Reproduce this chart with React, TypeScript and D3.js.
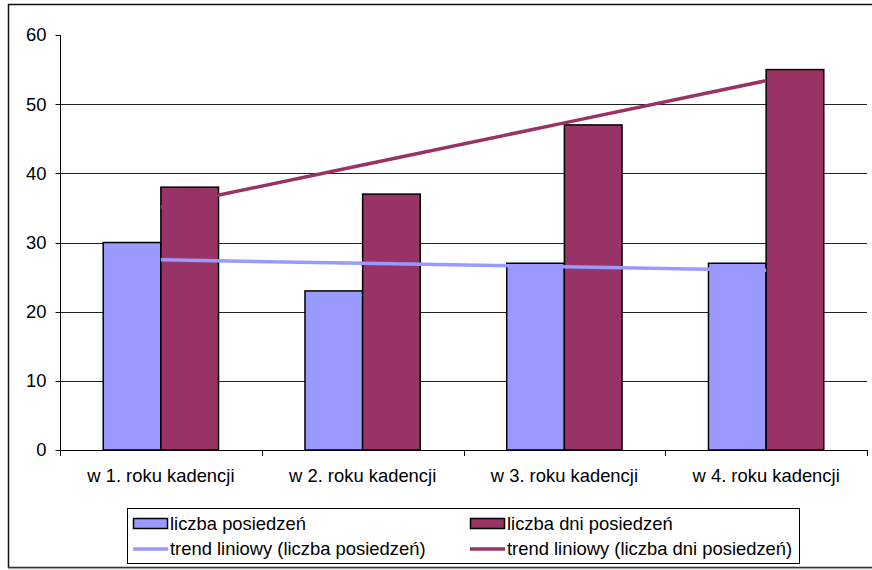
import { useEffect, useRef } from "react";
import * as d3 from "d3";

const categories = ["w 1. roku kadencji", "w 2. roku kadencji", "w 3. roku kadencji", "w 4. roku kadencji"];
const posiedzenia = [30, 23, 27, 27];
const dniPosiedzen = [38, 37, 47, 55];
const yTicks = [0, 10, 20, 30, 40, 50, 60];

const seriesNames = ["liczba posiedzeń", "liczba dni posiedzeń"];
const trendNames = ["trend liniowy (liczba posiedzeń)", "trend liniowy (liczba dni posiedzeń)"];
const colors = ["#9999ff", "#993366"];

// least squares trend over x = 1..n (what Excel's "trend liniowy" draws)
function linearTrend(values: number[]) {
  const xs = values.map((_, i) => i + 1);
  const mx = d3.mean(xs)!;
  const my = d3.mean(values)!;
  const slope = d3.sum(xs, (x, i) => (x - mx) * (values[i] - my)) / d3.sum(xs, (x) => (x - mx) ** 2);
  return values.map((_, i) => my + slope * (xs[i] - mx));
}

export default function App() {
  const ref = useRef<SVGSVGElement>(null);

  useEffect(() => {
    const svg = d3.select(ref.current);
    svg.selectAll("*").remove();
    const W = 872;
    const H = 570;
    const font = "Liberation Sans, Arial, sans-serif";
    const fs = 18.4;

    svg.append("rect").attr("width", W).attr("height", H).attr("fill", "#fff");
    // chart frame
    svg
      .append("rect")
      .attr("x", 8.5)
      .attr("y", 4.5)
      .attr("width", 870)
      .attr("height", 563)
      .attr("fill", "none")
      .attr("stroke", "#111")
      .attr("stroke-width", 1.5);
    svg.append("line").attr("x1", 8).attr("x2", W).attr("y1", 568.5).attr("y2", 568.5).attr("stroke", "#aaa").attr("stroke-width", 1.5);

    const left = 60;
    const right = 867;
    const top = 35;
    const bottom = 450;

    const y = d3.scaleLinear().domain([0, 60]).range([bottom, top]);
    const x = d3.scaleBand<string>().domain(categories).range([left, right]).padding(0);
    const bw = x.bandwidth() / 3.5;
    const inner = d3
      .scaleBand<number>()
      .domain([0, 1])
      .range([(x.bandwidth() - 2 * bw) / 2, (x.bandwidth() + 2 * bw) / 2]);

    // gridlines
    svg
      .selectAll("line.grid")
      .data(yTicks.filter((t) => t > 0 && t < 60))
      .join("line")
      .attr("x1", left)
      .attr("x2", right)
      .attr("y1", (d) => Math.round(y(d)) + 0.5)
      .attr("y2", (d) => Math.round(y(d)) + 0.5)
      .attr("stroke", "#222")
      .attr("stroke-width", 1);

    // bars
    const series = [posiedzenia, dniPosiedzen];
    series.forEach((vals, si) => {
      svg
        .selectAll(`rect.s${si}`)
        .data(vals)
        .join("rect")
        .attr("class", `s${si}`)
        .attr("x", (_, i) => x(categories[i])! + inner(si)!)
        .attr("y", (d) => y(d))
        .attr("width", bw)
        .attr("height", (d) => y(0) - y(d))
        .attr("fill", colors[si])
        .attr("stroke", "#000")
        .attr("stroke-width", 1.5);
    });

    // y axis
    const yAxis = svg.append("g").attr("transform", `translate(${left + 0.5},0)`);
    yAxis.append("line").attr("y1", top).attr("y2", bottom).attr("stroke", "#000");
    yAxis
      .selectAll("line.t")
      .data(yTicks)
      .join("line")
      .attr("x1", -5)
      .attr("x2", 0)
      .attr("y1", (d) => Math.round(y(d)) + 0.5)
      .attr("y2", (d) => Math.round(y(d)) + 0.5)
      .attr("stroke", "#000");
    yAxis
      .selectAll("text")
      .data(yTicks)
      .join("text")
      .attr("x", -14)
      .attr("y", (d) => y(d))
      .attr("dy", "0.35em")
      .attr("text-anchor", "end")
      .attr("font-family", font)
      .attr("font-size", fs)
      .attr("fill", "#000")
      .text((d) => d);

    // x axis
    svg.append("line").attr("x1", left).attr("x2", right).attr("y1", bottom + 0.5).attr("y2", bottom + 0.5).attr("stroke", "#000");
    const bounds = [...categories.map((c) => x(c)!), right];
    svg
      .selectAll("line.xt")
      .data(bounds)
      .join("line")
      .attr("x1", (d) => Math.round(d) + 0.5)
      .attr("x2", (d) => Math.round(d) + 0.5)
      .attr("y1", bottom)
      .attr("y2", bottom + 6)
      .attr("stroke", "#000");
    svg
      .selectAll("text.xl")
      .data(categories)
      .join("text")
      .attr("x", (d) => x(d)! + x.bandwidth() / 2)
      .attr("y", 482)
      .attr("text-anchor", "middle")
      .attr("font-family", font)
      .attr("font-size", fs)
      .attr("fill", "#000")
      .text((d) => d);

    // trend lines, drawn over the bars
    const line = d3
      .line<number>()
      .x((_, i) => x(categories[i])! + x.bandwidth() / 2)
      .y((d) => y(d));
    series.forEach((vals, si) => {
      svg
        .append("path")
        .attr("d", line(linearTrend(vals)))
        .attr("fill", "none")
        .attr("stroke", colors[si])
        .attr("stroke-width", 3.5);
    });

    // legend
    const lg = svg.append("g");
    lg.append("rect")
      .attr("x", 127.5)
      .attr("y", 508.5)
      .attr("width", 672)
      .attr("height", 55)
      .attr("fill", "#fff")
      .attr("stroke", "#000")
      .attr("stroke-width", 1);
    const colX = [133, 470];
    seriesNames.forEach((name, si) => {
      lg.append("rect")
        .attr("x", colX[si] + 0.5)
        .attr("y", 518.5)
        .attr("width", 34)
        .attr("height", 10)
        .attr("fill", colors[si])
        .attr("stroke", "#000")
        .attr("stroke-width", 1.5);
      lg.append("text")
        .attr("x", colX[si] + 37)
        .attr("y", 524)
        .attr("dy", "0.35em")
        .attr("font-family", font)
        .attr("font-size", fs)
        .text(name);
    });
    trendNames.forEach((name, si) => {
      lg.append("line")
        .attr("x1", colX[si])
        .attr("x2", colX[si] + 35)
        .attr("y1", 549)
        .attr("y2", 549)
        .attr("stroke", colors[si])
        .attr("stroke-width", 3.5);
      lg.append("text")
        .attr("x", colX[si] + 37)
        .attr("y", 549)
        .attr("dy", "0.35em")
        .attr("font-family", font)
        .attr("font-size", fs)
        .text(name);
    });
  }, []);

  return (
    <svg
      ref={ref}
      width={872}
      height={570}
      style={{ position: "absolute", left: 0, top: 0, display: "block" }}
    />
  );
}
